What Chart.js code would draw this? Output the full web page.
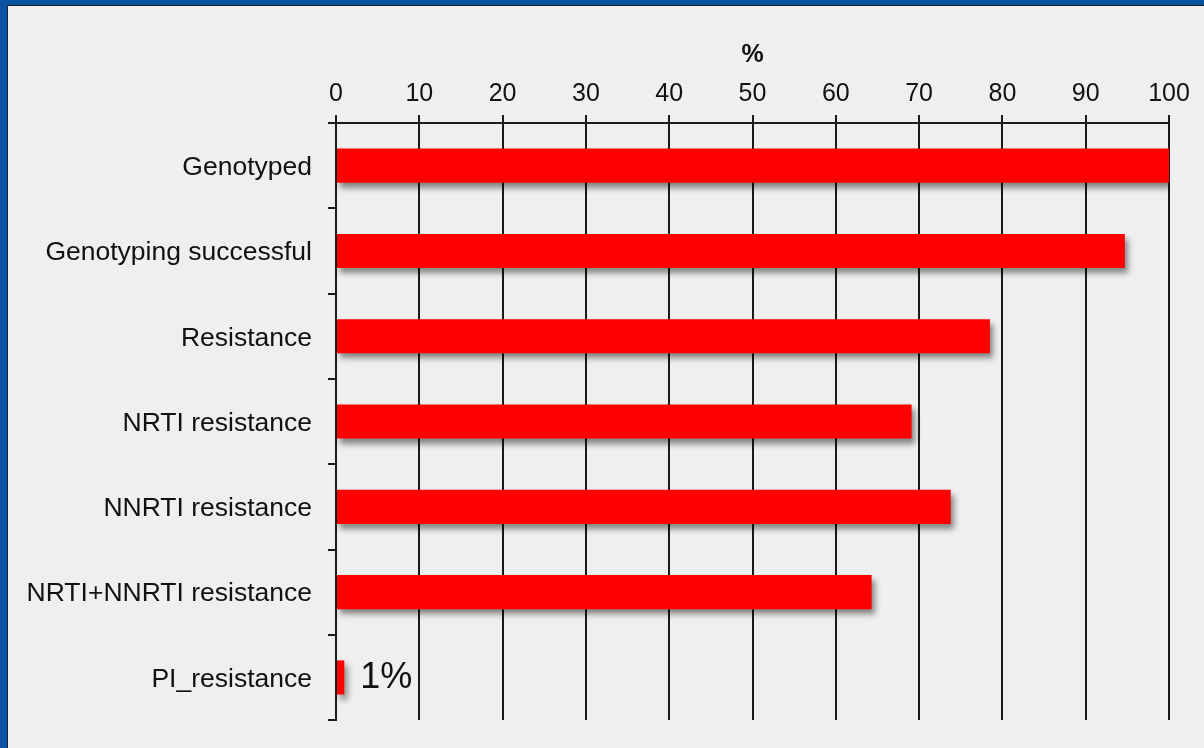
<!DOCTYPE html>
<html lang="en">
<head>
  <meta charset="UTF-8">
  <title>Genotyping results</title>
  <style>
    html, body { margin: 0; padding: 0; }
    body { width: 1204px; height: 748px; background: #0b52a2; overflow: hidden; position: relative; }
    .panel {
      position: absolute; left: 7px; top: 5px; width: 1197px; height: 743px; overflow: hidden;
      background: #efefef; border-left: 1px solid #1c2330; border-top: 1px solid #1c2330;
    }
    .panel canvas { display: block; }
  </style>
  <script src="https://cdn.jsdelivr.net/npm/chart.js"></script>
</head>
<body>
  <div class="panel">
    <canvas id="grafico" width="1196" height="746"></canvas>
  </div>

  <script>
    // Datos
    const categorias = [
      "Genotyped",
      "Genotyping successful",
      "Resistance",
      "NRTI resistance",
      "NNRTI resistance",
      "NRTI+NNRTI resistance",
      "PI_resistance"
    ];
    const porcentajes = [100, 94.7, 78.5, 69.1, 73.8, 64.3, 1.0];
    const etiquetaPI = "1%";
    const tituloEje = "%";

    // sombra de las barras
    const sombra = {
      id: "sombra",
      beforeDatasetsDraw(chart) {
        const ctx = chart.ctx;
        ctx.save();
        ctx.shadowColor = "rgba(0,0,0,0.45)";
        ctx.shadowBlur = 6;
        ctx.shadowOffsetX = 3;
        ctx.shadowOffsetY = 5;
      },
      afterDatasetsDraw(chart) {
        chart.ctx.restore();
        // etiqueta de la ultima barra
        const meta = chart.getDatasetMeta(0);
        const bar = meta.data[porcentajes.length - 1];
        const ctx = chart.ctx;
        ctx.save();
        ctx.font = "36px 'Liberation Sans', Arial, sans-serif";
        ctx.fillStyle = "#111";
        ctx.textAlign = "left";
        ctx.textBaseline = "middle";
        ctx.fillText(etiquetaPI, bar.x + 16, bar.y + 1);
        ctx.restore();
      }
    };

    const familia = "'Liberation Sans', Arial, sans-serif";

    new Chart(document.getElementById("grafico"), {
      type: "bar",
      data: {
        labels: categorias,
        datasets: [{
          data: porcentajes,
          backgroundColor: "#ff0000",
          borderWidth: 0,
          categoryPercentage: 1,
          barPercentage: 0.4
        }]
      },
      options: {
        indexAxis: "y",
        responsive: false,
        animation: false,
        layout: { padding: { left: 0, top: 0, right: 35, bottom: 28 } },
        plugins: {
          legend: { display: false },
          tooltip: { enabled: false }
        },
        scales: {
          x: {
            position: "top",
            min: 0,
            max: 100,
            ticks: { stepSize: 10, color: "#111", font: { family: familia, size: 25 }, padding: 6 },
            grid: { color: "#1a1a1a", lineWidth: 2, tickLength: 8 },
            border: { color: "#1a1a1a", width: 2 },
            title: {
              display: true,
              text: tituloEje,
              color: "#111",
              font: { family: familia, size: 25, weight: "bold" },
              padding: { top: 34, bottom: 0 }
            },
            afterFit(scale) { scale.height = 117; }
          },
          y: {
            ticks: { color: "#111", font: { family: familia, size: 26.5 }, padding: 16, labelOffset: 2 },
            grid: { drawOnChartArea: false, drawTicks: true, tickLength: 8, color: "#1a1a1a", lineWidth: 2, offset: true },
            border: { color: "#1a1a1a", width: 2 },
            afterFit(scale) { scale.width = 328; }
          }
        }
      },
      plugins: [sombra]
    });
  </script>
</body>
</html>
